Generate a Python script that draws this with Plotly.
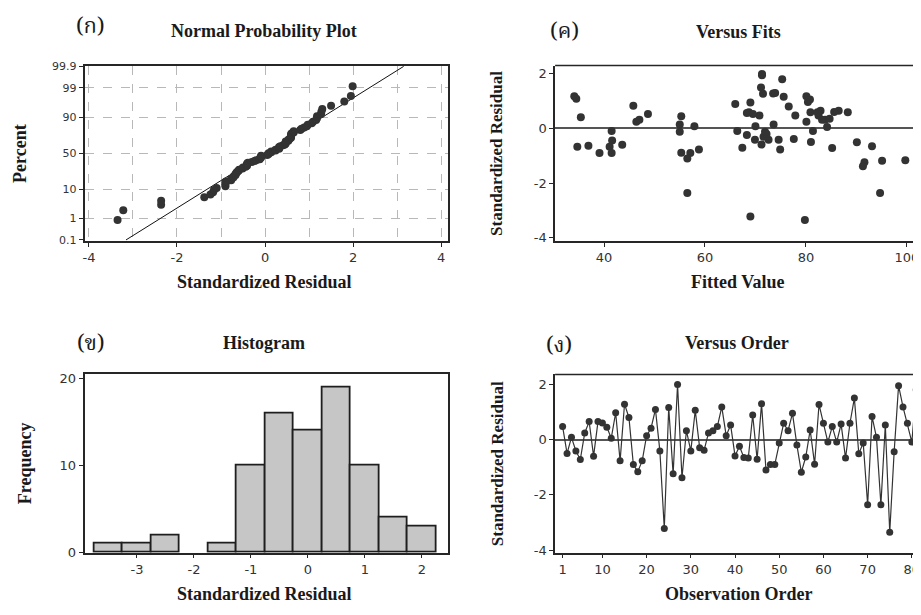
import plotly.graph_objects as go
from statistics import NormalDist, mean, stdev

# ---------------- data ----------------
residuals = [0.47, -0.5, 0.08, -0.41, -0.72, 0.24, 0.65, -0.6, 0.65, 0.6,
             0.45, 0.05, 0.97, -0.77, 1.28, 0.8, -0.9, -1.16, -0.77, 0.14,
             0.41, 1.09, -0.41, -3.22, 1.16, -1.24, 1.99, -1.38, 0.32, -0.41,
             1.06, -0.3, -0.39, 0.24, 0.32, 0.47, 1.18, 0.14, 0.53, -0.59,
             -0.24, -0.65, -0.67, 0.89, -0.71, 1.3, -1.1, -0.9, -0.9, -0.12,
             0.59, 0.32, 0.95, -0.2, -1.18, -0.63, 0.35, -0.89, 1.27, 0.59,
             -0.09, 0.47, -0.09, 0.56, -0.67, 0.59, 1.5, -0.51, -0.12, -2.36,
             0.83, 0.08, -2.36, 0.53, -3.35, -0.44, 1.95, 1.18, 0.59, -0.09,
             1.8]
fitted = [70.8, 81.0, 57.9, 69.9, 85.2, 80.1, 82.9, 43.6, 86.5, 85.6,
          55.3, 84.2, 80.4, 58.8, 73.5, 76.6, 57.1, 99.7, 74.9, 55.0,
          35.4, 34.5, 72.6, 69.0, 75.6, 91.6, 71.3, 91.3, 83.8, 74.6,
          80.8, 71.6, 77.6, 46.4, 47.0, 82.5, 80.1, 73.6, 69.5, 71.2,
          68.3, 93.1, 34.7, 66.0, 67.4, 73.9, 56.5, 39.1, 41.5, 55.0,
          68.7, 83.2, 69.0, 72.2, 95.1, 36.9, 84.7, 55.3, 71.5, 80.9,
          66.4, 77.9, 81.4, 68.3, 41.1, 88.3, 71.1, 90.1, 71.9, 56.5,
          45.8, 70.0, 94.7, 48.7, 79.8, 41.6, 71.3, 34.1, 82.3, 41.5,
          75.3]
order = list(range(1, len(residuals) + 1))

prob_tick_pct = [0.1, 1, 10, 50, 90, 99, 99.9]
prob_tick_text = ["0.1", "1", "10", "50", "90", "99", "99.9"]
npp_x_ticks = [-4, -2, 0, 2, 4]
npp_x_text = ["-4", "-2", "0", "2", "4"]
npp_x_minor = [-3, -1, 1, 3]
fits_x_ticks = [40, 60, 80, 100]
resid_y_ticks = [-4, -2, 0, 2]
resid_y_text = ["-4", "-2", "0", "2"]
hist_x_ticks = [-3, -2, -1, 0, 1, 2]
hist_x_text = ["-3", "-2", "-1", "0", "1", "2"]
hist_y_ticks = [0, 10, 20]
order_x_ticks = [1, 10, 20, 30, 40, 50, 60, 70, 80]

# ------------- derived (probability scale) -------------
nd = NormalDist()
n = len(residuals)
sorted_res = sorted(residuals)
npp_z = [nd.inv_cdf((i - 0.3) / (n + 0.4)) for i in range(1, n + 1)]
prob_tick_z = [nd.inv_cdf(p / 100.0) for p in prob_tick_pct]
m, s = mean(residuals), stdev(residuals)
zlo, zhi = prob_tick_z[0], prob_tick_z[-1]
line_x = [m + zlo * s, m + zhi * s]
line_z = [zlo, zhi]

W, H = 921, 615
OFF = 8  # page body margin offset of the rendered figure
def px(x): return (x - OFF) / W
def py(y): return 1 - (y - OFF) / H

DOT = "#333333"
FRAME = "#262626"
TICKF = dict(family="DejaVu Sans, Liberation Sans, sans-serif", size=13, color="#333")
SERIF = "Liberation Serif, DejaVu Serif, serif"
THAI = "Noto Serif Thai, Noto Sans Thai, Loma, Garuda, Norasi, Tlwg Typo, sans-serif"

fig = go.Figure()

# Panel 1: normal probability plot
fig.add_trace(go.Scatter(x=line_x, y=line_z, mode="lines",
                         line=dict(color="#111", width=1), xaxis="x", yaxis="y",
                         showlegend=False, hoverinfo="skip"))
fig.add_trace(go.Scatter(x=sorted_res, y=npp_z, mode="markers",
                         marker=dict(color=DOT, size=8), xaxis="x", yaxis="y",
                         showlegend=False))

# Panel 2: versus fits
fig.add_trace(go.Scatter(x=fitted, y=residuals, mode="markers",
                         marker=dict(color=DOT, size=8), xaxis="x2", yaxis="y2",
                         showlegend=False))

# Panel 3: histogram
fig.add_trace(go.Histogram(x=residuals, xbins=dict(start=-3.75, end=2.25, size=0.5),
                           marker=dict(color="#c6c6c6", line=dict(color="#1e1e1e", width=1.8)),
                           xaxis="x3", yaxis="y3", showlegend=False))

# Panel 4: versus order
fig.add_trace(go.Scatter(x=order, y=residuals, mode="lines+markers",
                         line=dict(color="#333333", width=1.2),
                         marker=dict(color=DOT, size=7), xaxis="x4", yaxis="y4",
                         showlegend=False))

dom_x_left = [px(82.7), px(446.7)]
dom_x_right = [px(554.3), 1.0]
dom_y_top = [py(240.7), py(61.7)]
dom_y_bot = [py(559.3), py(377.3)]

# right-hand panels run past the window edge (cropped as in the reference)
fits_hi = 30.3 + (W + OFF - 554.3) / 5.057
order_hi = -0.7 + (W + OFF - 554.3) / 4.43

common = dict(showline=True, linecolor=FRAME, linewidth=1.6, ticks="outside",
              ticklen=4, tickcolor=FRAME, tickfont=TICKF, zeroline=False,
              showgrid=False)

grid = dict(showgrid=True, gridcolor="#b8b8b8", griddash="dash", gridwidth=1)

fig.update_layout(
    width=W, height=H, margin=dict(l=0, r=0, t=0, b=0),
    paper_bgcolor="white", plot_bgcolor="white", bargap=0,
    xaxis=dict(domain=dom_x_left, anchor="y", range=[-4.1, 4.15],
               tickmode="array", tickvals=npp_x_ticks, ticktext=npp_x_text, mirror=True,
               minor=dict(tickmode="array", tickvals=npp_x_minor, ticks="",
                          showgrid=True, gridcolor="#b8b8b8", griddash="dash"),
               **{**common, **grid}),
    yaxis=dict(domain=dom_y_top, anchor="x", range=[zlo - 0.03, zhi + 0.03],
               tickmode="array", tickvals=prob_tick_z, ticktext=prob_tick_text,
               mirror=True, **{**common, **grid,
                               "tickfont": dict(TICKF, size=11)}),
    xaxis2=dict(domain=dom_x_right, anchor="y2", range=[30.3, fits_hi],
                tickmode="array", tickvals=fits_x_ticks, **common),
    yaxis2=dict(domain=dom_y_top, anchor="x2", range=[-4.11, 2.3],
                tickmode="array", tickvals=resid_y_ticks, ticktext=resid_y_text,
                **{**common, "zeroline": True, "zerolinecolor": "#555",
                   "zerolinewidth": 1.5}),
    xaxis3=dict(domain=dom_x_left, anchor="y3", range=[-3.92, 2.455],
                tickmode="array", tickvals=hist_x_ticks, ticktext=hist_x_text,
                mirror=True, **common),
    yaxis3=dict(domain=dom_y_bot, anchor="x3", range=[0, 20.5],
                tickmode="array", tickvals=hist_y_ticks, mirror=True, **common),
    xaxis4=dict(domain=dom_x_right, anchor="y4", range=[-0.7, order_hi],
                tickmode="array", tickvals=order_x_ticks, **common),
    yaxis4=dict(domain=dom_y_bot, anchor="x4", range=[-4.09, 2.354],
                tickmode="array", tickvals=resid_y_ticks, ticktext=resid_y_text,
                **{**common, "zeroline": True, "zerolinecolor": "#555",
                   "zerolinewidth": 1.5}),
)

# top frame lines for the right-hand (cropped) panels
for xr, yr in (("x2", "y2"), ("x4", "y4")):
    fig.add_shape(type="line", xref=f"{xr} domain", yref=f"{yr} domain",
                  x0=0, x1=1, y0=1, y1=1, line=dict(color=FRAME, width=1.6))

def note(text, x, y, size, family=SERIF, bold=True, angle=0):
    t = f"<b>{text}</b>" if bold else text
    fig.add_annotation(text=t, x=px(x), y=py(y), xref="paper", yref="paper",
                       showarrow=False, textangle=angle, xanchor="center",
                       yanchor="middle",
                       font=dict(family=family, size=size, color="#1a1a1a"))

# panel labels
note("(ก)", 89, 23, 22, THAI, bold=False)
note("(ค)", 564, 28, 22, THAI, bold=False)
note("(ข)", 89, 347, 22, THAI, bold=False)
note("(ง)", 558, 349, 22, THAI, bold=False)

# titles
note("Normal Probability Plot", 263, 26, 18)
note("Versus Fits", 738, 27, 18)
note("Histogram", 263, 345, 18)
note("Versus Order", 737, 345, 18)

# axis titles
note("Percent", 18, 151, 18, angle=-90)
note("Standardized Residual", 263, 283, 18)
note("Standardized Residual", 496, 151, 17, angle=-90)
note("Fitted Value", 738, 283, 18)
note("Frequency", 23, 468, 18, angle=-90)
note("Standardized Residual", 263, 602, 18)
note("Standardized Residual", 496, 468, 17, angle=-90)
note("Observation Order", 738, 602, 18)

fig.write_html("out.html")
